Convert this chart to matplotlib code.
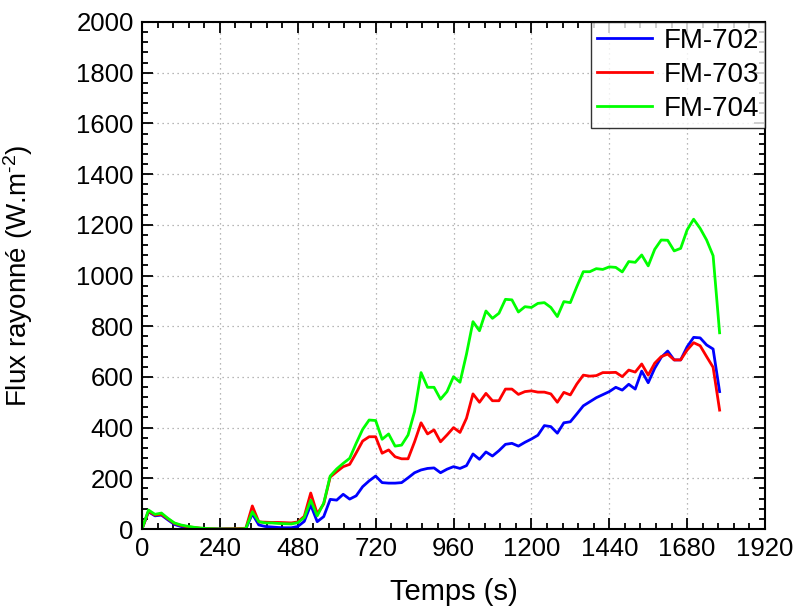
import matplotlib
matplotlib.use('Agg')
import matplotlib.pyplot as plt
from matplotlib.ticker import MultipleLocator

plt.rcParams['font.family'] = ['Liberation Sans', 'DejaVu Sans']
plt.rcParams['mathtext.fontset'] = 'custom'
plt.rcParams['mathtext.rm'] = 'Liberation Sans'
plt.rcParams['mathtext.it'] = 'Liberation Sans:italic'

# sampling every 20 s
temps = list(range(0, 1800, 20))

fm702 = [0, 68, 52, 55, 36, 18, 10, 5, 3, 1,
         0, 0, 0, 0, 0, 0, 0, 60, 16, 10,
         8, 6, 5, 5, 10, 30, 95, 29, 49, 117,
         114, 137, 118, 131, 167, 190, 209, 183, 181, 181,
         183, 202, 222, 233, 239, 241, 222, 236, 246, 239,
         250, 296, 275, 304, 288, 309, 334, 338, 327, 342,
         355, 370, 408, 404, 378, 419, 423, 454, 486, 502,
         518, 530, 542, 559, 548, 571, 552, 623, 577, 634,
         677, 702, 667, 667, 719, 756, 754, 726, 710, 542]

fm703 = [0, 70, 55, 58, 40, 22, 14, 9, 6, 3,
         2, 1, 0, 1, 1, 2, 3, 91, 28, 27,
         26, 26, 25, 24, 28, 50, 142, 60, 99, 205,
         226, 246, 255, 300, 347, 364, 364, 299, 312, 285,
         277, 277, 344, 419, 375, 391, 344, 371, 400, 381,
         437, 533, 500, 535, 506, 506, 552, 552, 531, 542,
         545, 540, 540, 533, 500, 539, 529, 572, 607, 603,
         605, 617, 617, 618, 601, 627, 619, 651, 607, 654,
         680, 690, 667, 667, 706, 735, 723, 680, 638, 469]

fm704 = [0, 75, 58, 63, 42, 24, 16, 11, 7, 4,
         2, 1, 0, 0, 0, 0, 2, 68, 29, 24,
         24, 22, 21, 20, 25, 45, 114, 52, 102, 209,
         237, 259, 279, 338, 393, 430, 428, 354, 375, 327,
         331, 371, 463, 617, 559, 559, 512, 542, 601, 579,
         690, 818, 782, 860, 831, 851, 906, 904, 856, 877,
         874, 890, 893, 874, 838, 897, 893, 956, 1015, 1015,
         1027, 1024, 1034, 1032, 1014, 1055, 1052, 1081, 1038, 1103,
         1140, 1139, 1097, 1107, 1180, 1222, 1186, 1140, 1078, 774]

fig = plt.figure(figsize=(7.95, 6.14), dpi=100)
ax = fig.add_axes([0.1786, 0.1384, 0.7837, 0.8258])

ax.plot(temps, fm702, color='#0000ff', lw=2.0, label='FM-702')
ax.plot(temps, fm703, color='#ff0000', lw=2.0, label='FM-703')
ax.plot(temps, fm704, color='#00ff00', lw=2.0, label='FM-704')

ax.set_xlim(0, 1920)
ax.set_ylim(0, 2000)
ax.xaxis.set_major_locator(MultipleLocator(240))
ax.xaxis.set_minor_locator(MultipleLocator(48))
ax.yaxis.set_major_locator(MultipleLocator(200))
ax.yaxis.set_minor_locator(MultipleLocator(40))
ax.tick_params(which='both', direction='in', top=True, right=True,
               width=1.3, labelsize=18.5, colors='black')
ax.tick_params(which='major', length=8, pad=6)
ax.tick_params(which='minor', length=4.5)
for s in ax.spines.values():
    s.set_linewidth(1.5)

ax.grid(True, which='major', color='#a0a0a0', linestyle=(0, (1, 3)), lw=0.9)

ax.set_xlabel('Temps (s)', fontsize=21, labelpad=12)
ax.set_ylabel(r'Flux rayonné (W.m$^{\text{-2}}$)', fontsize=20)
ax.yaxis.set_label_coords(-0.172, 0.5)

leg = ax.legend(loc='upper right', fontsize=20, frameon=True, fancybox=False,
                borderaxespad=0, handlelength=2.0, handletextpad=0.4,
                labelspacing=0.28, borderpad=0.22)
leg.get_frame().set_edgecolor('black')
leg.get_frame().set_linewidth(1.0)

fig.savefig('out.png', dpi=100)
